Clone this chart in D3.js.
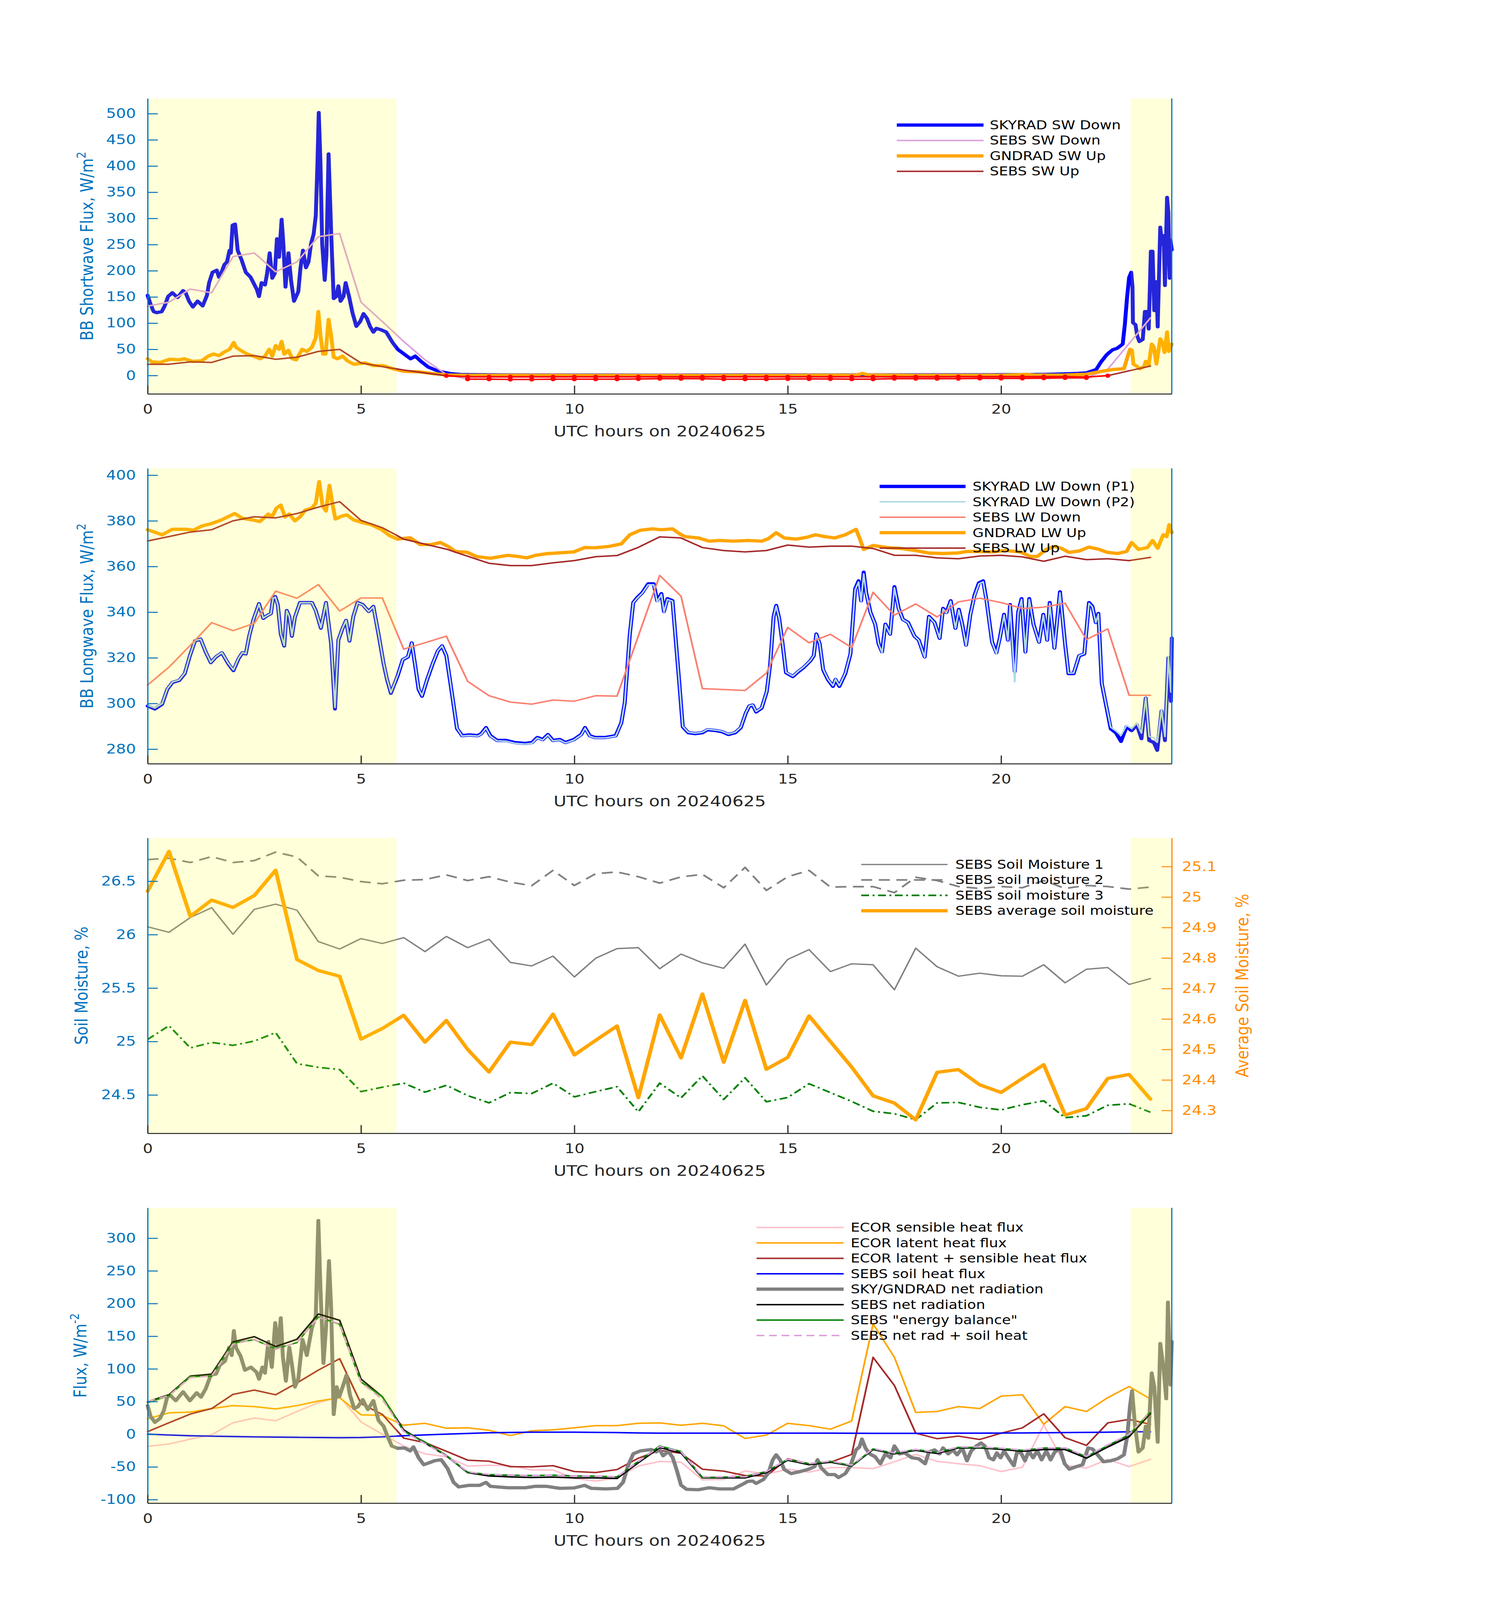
<!DOCTYPE html>
<html>
<head>
<meta charset="utf-8">
<script src="https://cdn.jsdelivr.net/npm/d3@7"></script>
<style>
  html, body { margin: 0; padding: 0; background: #fff; overflow: hidden; }
  #chart { width: 100vw; height: 100vh; }
  svg { display: block; width: 100vw; height: 100vh; font-family: 'DejaVu Sans', sans-serif; }
</style>
</head>
<body>
<div id="chart"></div>
<script>
// ---- time bases ----
const halfHours = [0, 0.5, 1, 1.5, 2, 2.5, 3, 3.5, 4, 4.5, 5, 5.5, 6, 6.5, 7, 7.5, 8, 8.5, 9, 9.5,
  10, 10.5, 11, 11.5, 12, 12.5, 13, 13.5, 14, 14.5, 15, 15.5, 16, 16.5, 17, 17.5, 18, 18.5, 19, 19.5,
  20, 20.5, 21, 21.5, 22, 22.5, 23, 23.5];
const hourTicks = [0, 5, 10, 15, 20];
const dayShade = [[0, 5.83], [23.04, 24]];

// ---- panel 1: shortwave ----
const swTicks = [0, 50, 100, 150, 200, 250, 300, 350, 400, 450, 500];
const skyradSwDown = [[0,153],[0.06,138],[0.14,122],[0.21,120],[0.33,122],[0.4,133],[0.48,151],[0.58,158],[0.7,149],
  [0.83,162],[0.89,158],[0.97,142],[1.06,131],[1.17,142],[1.29,133],[1.39,153],[1.44,177],[1.52,197],[1.62,201],
  [1.67,188],[1.73,197],[1.8,212],[1.86,217],[1.92,239],[1.95,234],[1.99,287],[2.05,289],[2.11,239],[2.2,221],
  [2.3,197],[2.41,188],[2.48,177],[2.56,164],[2.61,151],[2.67,177],[2.75,173],[2.8,195],[2.86,234],[2.92,186],
  [2.98,195],[3.03,261],[3.08,226],[3.14,298],[3.18,252],[3.23,169],[3.3,234],[3.36,182],[3.43,142],[3.53,160],
  [3.58,204],[3.64,239],[3.71,206],[3.77,217],[3.83,252],[3.89,270],[3.94,305],[3.98,406],[4.01,502],[4.05,406],
  [4.09,252],[4.15,182],[4.19,230],[4.24,423],[4.3,274],[4.36,147],[4.42,151],[4.47,171],[4.52,142],[4.59,151],
  [4.64,177],[4.72,151],[4.8,120],[4.89,94],[4.98,103],[5.06,118],[5.14,109],[5.21,94],[5.29,83],[5.36,90],
  [5.48,87],[5.59,83],[5.74,63],[5.86,50],[6.01,41],[6.16,32],[6.27,37],[6.42,26],[6.58,16],[6.73,11],[6.88,7],
  [7.11,3.5],[7.33,2],[7.6,1.5],[8.5,1],[10,0.8],[12,0.6],[14,1],[16,1],[18,1.2],[20,1.5],[21,2],[21.5,3],
  [21.8,4],[22,5],[22.23,11.5],[22.34,25.7],[22.48,40],[22.61,49],[22.72,52],[22.85,60],[22.9,97],[22.95,147],
  [23,187],[23.05,197],[23.08,169],[23.09,101],[23.15,97],[23.19,76],[23.24,65],[23.32,69],[23.37,122],[23.41,122],
  [23.46,89],[23.51,237],[23.55,237],[23.59,124],[23.64,179],[23.67,93],[23.73,283],[23.77,251],[23.81,267],
  [23.84,172],[23.89,340],[23.92,311],[23.95,186],[23.97,258],[24,240]];
const gndradSwUp = [[0,32],[0.1,26],[0.29,25],[0.52,31],[0.74,30],[0.86,32],[1.05,27],[1.27,28],[1.42,37],[1.54,41],
  [1.67,38],[1.8,45],[1.92,50],[2.02,63],[2.07,54],[2.18,48],[2.33,41],[2.48,37],[2.64,32],[2.75,37],[2.85,50],
  [2.92,37],[3,57],[3.08,50],[3.14,65],[3.2,41],[3.3,48],[3.39,32],[3.48,30],[3.62,50],[3.73,46],[3.85,54],
  [3.94,72],[4,122],[4.05,76],[4.11,41],[4.17,41],[4.24,107],[4.3,76],[4.36,35],[4.45,32],[4.57,37],[4.68,28],
  [4.83,21.5],[4.98,23],[5.1,24],[5.29,19],[5.52,19],[5.74,13],[6.01,8],[6.35,7],[6.65,4],[7.03,1],[7.5,0.5],
  [9,0.5],[11,0.3],[13,0.3],[15,0.5],[16.6,0.8],[16.75,4],[16.9,1],[18,0.5],[20,0.6],[20.6,2],[20.8,0.8],
  [21.5,1],[22,2.5],[22.34,7.8],[22.61,11.4],[22.88,13],[22.95,32],[23.02,50],[23.07,48],[23.1,22],[23.19,17],
  [23.25,13],[23.35,17],[23.39,27],[23.46,20],[23.53,60],[23.58,54],[23.64,22],[23.73,70],[23.79,61],[23.83,44],
  [23.89,83],[23.93,46],[24,60]];
const sebsSwDown = [132.6, 140, 165, 158, 227, 234, 198, 217, 265, 271, 140, 103, 65, 30, 2, -7, -7, -7.5, -7.5, -7,
  -7, -7, -7, -6.5, -6, -6, -6, -7, -7, -7, -6.5, -6.5, -6.5, -7, -7, -6, -6, -6, -6, -5.5, -5.5, -5.5, -5, -4.5,
  -4.5, 12, 61, 110];
const sebsSwUp = [21.5, 21.5, 26, 25, 37, 38, 31, 35, 46, 50, 24, 17, 10.5, 5, -0.5, -2.5, -2.5, -2.5, -2.5, -2.5,
  -2.5, -2.5, -2.5, -2.5, -2.5, -2.5, -2.5, -2.5, -2.5, -2.5, -2.5, -2.5, -2.5, -2.5, -2.5, -2.5, -2.5, -2.5, -2.2,
  -2.2, -2.2, -2.2, -2.2, -2.2, -2.9, -0.3, 9, 18];

// ---- panel 2: longwave ----
const lwTicks = [280, 300, 320, 340, 360, 380, 400];
const skyradLwDownP1 = [[0,298.9],[0.17,297.6],[0.34,299.7],[0.46,306.2],[0.58,309.2],[0.74,310.1],[0.87,313.1],
  [0.99,320.9],[1.11,327.4],[1.24,328.2],[1.36,322.6],[1.48,317.9],[1.6,320.4],[1.74,322.2],[1.89,317.4],[2.01,314.4],
  [2.13,319.6],[2.22,322.2],[2.3,321.7],[2.38,329.5],[2.48,336.8],[2.61,343.7],[2.71,337.3],[2.81,338.6],[2.89,339.4],
  [2.94,346.3],[2.99,346.8],[3.05,343.3],[3.12,330.4],[3.2,325.2],[3.26,340.7],[3.32,338.1],[3.38,329.5],[3.45,337.7],
  [3.57,344.2],[3.69,344.2],[3.85,344.2],[3.94,340.7],[4.06,333],[4.18,344.2],[4.3,326.1],[4.39,297.6],[4.47,327.8],
  [4.57,333],[4.65,336.4],[4.73,327.4],[4.82,338.1],[4.92,344.2],[5.04,343.3],[5.18,340.3],[5.29,342.5],[5.41,330.4],
  [5.53,317.4],[5.61,310.5],[5.7,304.5],[5.86,312.2],[5.98,319.2],[6.1,320.4],[6.19,326.5],[6.27,316.6],[6.35,306.2],
  [6.43,303.2],[6.55,310.5],[6.68,317.4],[6.8,323],[6.9,325.2],[7,320.9],[7.13,304.5],[7.25,289],[7.37,285.9],
  [7.54,286.2],[7.74,285.9],[7.82,286.8],[7.93,289.4],[8.03,285.9],[8.19,283.8],[8.4,283.8],[8.6,282.9],[8.85,282.5],
  [9.01,282.9],[9.13,285.1],[9.26,284.2],[9.38,286.4],[9.5,283.8],[9.66,284.2],[9.79,282.9],[9.99,284.2],[10.16,286.4],
  [10.25,289.4],[10.36,285.9],[10.48,285.1],[10.73,285.1],[10.97,285.9],[11.1,291.5],[11.18,300.2],[11.3,330.4],
  [11.38,344.2],[11.47,346.3],[11.59,348.5],[11.73,352.4],[11.86,352.4],[11.94,345],[12.04,348.1],[12.1,340.3],
  [12.18,345.9],[12.3,345],[12.38,326.9],[12.46,308.8],[12.54,289.8],[12.67,287.2],[12.83,286.8],[13,287.2],
  [13.12,288.5],[13.32,288.1],[13.45,287.7],[13.61,286.4],[13.77,287.2],[13.9,289.4],[14.02,295.9],[14.1,298.9],
  [14.18,299.3],[14.26,296.3],[14.39,298],[14.51,305.3],[14.59,317.4],[14.67,338.1],[14.73,342.9],[14.8,337.3],
  [14.88,326.1],[14.96,313.5],[15.12,311.8],[15.25,314],[15.37,315.7],[15.53,318.7],[15.61,320.9],[15.67,330.4],
  [15.75,326.1],[15.83,314.8],[15.94,310.5],[16.06,307.5],[16.12,310.5],[16.21,307.5],[16.35,313.1],[16.47,321.7],
  [16.58,350.2],[16.66,353.7],[16.72,345],[16.78,357.5],[16.84,348.5],[16.94,339.9],[17.05,334.7],[17.13,326.1],
  [17.21,322.6],[17.29,334.7],[17.4,330.4],[17.5,351.1],[17.6,341.6],[17.7,336.8],[17.82,335.5],[17.97,329.5],
  [18.07,327.8],[18.21,320.4],[18.31,338.1],[18.44,335.5],[18.56,328.6],[18.64,341.6],[18.72,339.9],[18.82,345],
  [18.93,333],[19.01,341.2],[19.09,334.7],[19.18,325.6],[19.28,339],[19.38,347.6],[19.48,352.8],[19.58,353.7],
  [19.66,345],[19.79,326.9],[19.89,322.2],[19.97,328.6],[20.07,339],[20.16,327.8],[20.21,343.3],[20.32,314],
  [20.4,339.9],[20.48,345.9],[20.57,322.6],[20.66,345.9],[20.76,334.7],[20.89,326.9],[20.99,339],[21.08,327.8],
  [21.14,344.2],[21.25,324.3],[21.38,348.9],[21.5,326.1],[21.58,313.1],[21.7,313.1],[21.83,320.9],[21.95,321.7],
  [22.06,344.2],[22.14,342.5],[22.22,335.5],[22.28,339.4],[22.36,308.8],[22.47,298.4],[22.57,288.9],[22.69,287.2],
  [22.81,283.4],[22.94,289.8],[23.06,288.1],[23.18,290.7],[23.29,284.6],[23.39,302.3],[23.47,283.8],[23.58,282.9],
  [23.66,279.5],[23.76,296.7],[23.84,283.8],[23.92,320],[23.98,301],[24,328.6]];
const skyradLwDownP2 = [[0,299.2],[0.17,298],[0.34,300],[0.46,306.4],[0.58,309.4],[0.74,310.3],[0.87,313.3],
  [0.99,321],[1.11,327.5],[1.24,328.2],[1.36,322.7],[1.48,318],[1.6,320.5],[1.74,322.3],[1.89,317.6],[2.01,314.7],
  [2.13,319.8],[2.22,322.3],[2.3,321.8],[2.38,329.6],[2.48,336.8],[2.61,343.6],[2.71,337.4],[2.81,338.6],[2.89,339.4],
  [2.94,346.1],[2.99,346.6],[3.05,343.2],[3.12,330.6],[3.2,325.4],[3.26,340.6],[3.32,338.1],[3.38,329.7],[3.45,337.7],
  [3.57,344.1],[3.69,344.1],[3.85,344.1],[3.94,340.6],[4.06,333.2],[4.18,344.1],[4.3,326.3],[4.39,298.3],[4.47,327.9],
  [4.57,333.1],[4.65,336.4],[4.73,327.5],[4.82,338.1],[4.92,344.1],[5.04,343.2],[5.18,340.3],[5.29,342.4],[5.41,330.5],
  [5.53,317.6],[5.61,310.7],[5.7,304.8],[5.86,312.3],[5.98,319.3],[6.1,320.5],[6.19,326.5],[6.27,316.7],[6.35,306.4],
  [6.43,303.4],[6.55,310.6],[6.68,317.5],[6.8,323.1],[6.9,325.2],[7,321],[7.13,304.7],[7.25,289.2],[7.37,285.7],
  [7.54,286],[7.74,285.7],[7.82,286.6],[7.93,289.2],[8.03,285.7],[8.19,283.6],[8.4,283.5],[8.6,282.6],[8.85,282.2],
  [9.01,282.6],[9.13,284.9],[9.26,284],[9.38,286.2],[9.5,283.6],[9.66,284],[9.79,282.7],[9.99,284],[10.16,286.2],
  [10.25,289.2],[10.36,285.7],[10.48,284.9],[10.73,284.9],[10.97,285.7],[11.1,291.5],[11.18,300.4],[11.3,330.5],
  [11.38,344.1],[11.47,346.1],[11.59,348.3],[11.73,352],[11.86,352],[11.94,344.5],[12.04,347.8],[12.1,340],
  [12.18,345.6],[12.3,344.8],[12.38,326.9],[12.46,308.9],[12.54,290],[12.67,287.4],[12.83,287],[13,287.4],
  [13.12,288.7],[13.32,288.3],[13.45,287.9],[13.61,286.6],[13.77,287.4],[13.9,289.6],[14.02,296],[14.1,299],
  [14.18,299.4],[14.26,296.5],[14.39,298.2],[14.51,305.4],[14.59,317.5],[14.67,338],[14.73,342.7],[14.8,337.3],
  [14.88,326.2],[14.96,313.7],[15.12,312],[15.25,314.2],[15.37,315.9],[15.53,318.8],[15.61,321],[15.67,330.3],
  [15.75,326.2],[15.83,315],[15.94,310.7],[16.06,307.8],[16.12,310.7],[16.21,307.8],[16.35,313.3],[16.47,321.8],
  [16.58,349.8],[16.66,353.2],[16.72,344.7],[16.78,356.8],[16.84,348.2],[16.94,339.8],[17.05,334.7],[17.13,326.2],
  [17.21,322.2],[17.29,334.6],[17.4,330.4],[17.5,350.7],[17.6,341.4],[17.7,336.7],[17.82,335.4],[17.97,329.5],
  [18.07,327.8],[18.21,320.2],[18.31,337.9],[18.44,335.4],[18.56,328.6],[18.64,341.4],[18.72,339.7],[18.82,344.8],
  [18.93,332.9],[19.01,341],[19.09,334.6],[19.18,325.4],[19.28,338.8],[19.38,347.3],[19.48,352.4],[19.58,353.3],
  [19.66,344.8],[19.79,326.8],[19.89,321.8],[19.97,328.5],[20.07,338.8],[20.16,327.7],[20.21,343],[20.32,309.5],
  [20.4,339.7],[20.48,345.6],[20.57,322.4],[20.66,345.6],[20.76,334.6],[20.89,326.8],[20.99,338.8],[21.08,327.7],
  [21.14,343.9],[21.25,324.2],[21.38,348.5],[21.5,326.1],[21.58,313.3],[21.7,313.3],[21.83,321],[21.95,321.8],
  [22.06,343.9],[22.14,342.3],[22.22,335.4],[22.28,339.2],[22.36,309],[22.47,298.6],[22.57,289.6],[22.69,288],
  [22.81,286],[22.94,290.4],[23.06,289],[23.18,291.4],[23.29,287],[23.39,302.5],[23.47,285.5],[23.58,285],
  [23.66,283],[23.76,297.5],[23.84,285.5],[23.92,320.5],[23.98,305],[24,328.8]];
const gndradLwUp = [[0,376.1],[0.34,373.9],[0.58,376.3],[0.91,376.3],[1.07,375.9],[1.28,377.8],[1.48,378.7],
  [1.73,380.4],[2.04,383.2],[2.22,381.1],[2.46,380.4],[2.63,379.7],[2.83,383],[2.91,381.7],[3.02,385.6],[3.12,386.9],
  [3.22,381.7],[3.32,383],[3.45,380],[3.57,381.7],[3.69,384.7],[3.85,385.6],[3.94,387.7],[4.02,397.2],[4.1,386.5],
  [4.18,384.3],[4.26,395.5],[4.34,386.5],[4.4,380.8],[4.55,382.1],[4.67,382.6],[4.83,380.4],[5,379.4],[5.24,378.3],
  [5.49,376.1],[5.67,373.5],[5.86,372],[6.15,372.6],[6.39,369.6],[6.64,369.6],[6.86,370.5],[7.04,368.8],[7.21,366.6],
  [7.49,366.2],[7.7,364.4],[8.03,363.6],[8.44,364.9],[8.68,364.4],[8.89,363.8],[9.09,364.9],[9.34,365.6],[9.66,366],
  [9.99,366.4],[10.24,368.3],[10.48,368.2],[10.81,368.8],[11.1,369.9],[11.3,373.9],[11.55,375.9],[11.83,376.5],
  [12.04,376.1],[12.3,376.5],[12.46,374.4],[12.59,373.1],[12.91,372.5],[13.16,371.1],[13.4,371.4],[13.73,371.1],
  [14.06,371.4],[14.39,371.1],[14.55,372.2],[14.73,374.8],[14.92,372.5],[15.2,372],[15.45,372.8],[15.65,373.9],
  [15.86,373.1],[16.1,372.5],[16.35,373.9],[16.6,376.3],[16.68,372.6],[16.78,367.5],[17,369.2],[17.33,368.3],
  [17.66,367.9],[17.99,367],[18.31,365.9],[18.64,365.7],[18.97,365.9],[19.21,366.6],[19.46,366.6],[19.79,366.4],
  [20.11,367],[20.44,366.4],[20.69,364.4],[20.85,364.4],[21.06,367.5],[21.26,368.8],[21.42,367.9],[21.59,366.2],
  [21.83,366.8],[22.06,368.5],[22.28,367.6],[22.49,366.2],[22.73,365.7],[22.94,366.6],[23.06,370.5],[23.22,367.5],
  [23.43,368.3],[23.55,371.4],[23.67,368],[23.8,373.9],[23.88,373.1],[23.94,378.3],[24,374.8]];
const sebsLwDown = [308.1, 315.9, 325.5, 335.4, 331.9, 335.1, 349.2, 346.1, 352.1, 340.5, 346.2, 346.2, 323.8, 326.6,
  329.5, 309.7, 303.4, 300.6, 299.7, 301.5, 301, 303.4, 303.2, 329.6, 356.1, 347, 306.5, 306.1, 305.7, 313.3, 333.3,
  326.6, 330.3, 324.5, 348.7, 338.7, 343.6, 337.9, 344.5, 346.1, 344.2, 341.6, 342.2, 343.9, 328, 332.7, 303.6, 303.6];
const sebsLwUp = [371.2, 373.1, 375.1, 376.1, 380, 381.8, 381.3, 383.2, 386, 388.4, 380.2, 377, 372, 369.8, 367.6,
  364.5, 361.4, 360.4, 360.4, 361.6, 362.6, 364.3, 364.8, 368.4, 373, 372.5, 368.3, 367, 366.4, 367, 369.4, 368.5,
  368.9, 368.9, 367.9, 364.9, 364.9, 363.8, 363.4, 364.6, 364.9, 364.2, 362.3, 364.5, 363, 363.4, 362.6, 364];

// ---- panel 3: soil moisture ----
const smTicks = [24.5, 25, 25.5, 26, 26.5];
const smAvgTicks = [24.3, 24.4, 24.5, 24.6, 24.7, 24.8, 24.9, 25, 25.1];
const soilMoisture1 = [26.073, 26.022, 26.16, 26.252, 26.003, 26.237, 26.285, 26.228, 25.935, 25.865, 25.963, 25.917,
  25.972, 25.841, 25.983, 25.878, 25.957, 25.74, 25.707, 25.799, 25.604, 25.779, 25.869, 25.878, 25.681, 25.818,
  25.736, 25.685, 25.911, 25.529, 25.768, 25.86, 25.654, 25.727, 25.718, 25.484, 25.873, 25.7, 25.611, 25.639,
  25.615, 25.611, 25.718, 25.549, 25.676, 25.692, 25.534, 25.589];
const soilMoisture2 = [26.702, 26.715, 26.675, 26.73, 26.675, 26.693, 26.772, 26.726, 26.55, 26.537, 26.496, 26.476,
  26.509, 26.515, 26.559, 26.506, 26.542, 26.491, 26.458, 26.601, 26.46, 26.57, 26.586, 26.542, 26.482, 26.54,
  26.564, 26.439, 26.629, 26.414, 26.542, 26.601, 26.445, 26.449, 26.449, 26.393, 26.537, 26.506, 26.45, 26.432,
  26.45, 26.439, 26.506, 26.432, 26.46, 26.45, 26.426, 26.445];
const soilMoisture3 = [25.019, 25.148, 24.94, 24.991, 24.964, 25.004, 25.083, 24.793, 24.758, 24.737, 24.531, 24.572,
  24.61, 24.526, 24.59, 24.494, 24.426, 24.522, 24.513, 24.61, 24.482, 24.531, 24.577, 24.342, 24.61, 24.472,
  24.678, 24.458, 24.66, 24.436, 24.476, 24.605, 24.522, 24.439, 24.347, 24.324, 24.268, 24.425, 24.43, 24.384,
  24.36, 24.408, 24.445, 24.287, 24.305, 24.403, 24.417, 24.338];
const soilMoistureAvg = [25.019, 25.15, 24.937, 24.99, 24.966, 25.005, 25.088, 24.795, 24.759, 24.74, 24.534, 24.569,
  24.612, 24.524, 24.595, 24.5, 24.426, 24.524, 24.516, 24.616, 24.482, 24.53, 24.577, 24.342, 24.613, 24.472,
  24.682, 24.458, 24.661, 24.435, 24.474, 24.61, 24.526, 24.442, 24.348, 24.324, 24.269, 24.425, 24.434, 24.384,
  24.359, 24.405, 24.45, 24.285, 24.306, 24.405, 24.418, 24.337];

// ---- panel 4: surface energy fluxes ----
const fluxTicks = [-100, -50, 0, 50, 100, 150, 200, 250, 300];
const ecorSensible = [-18.6, -15, -7.5, -0.8, 17.6, 24.8, 20.6, 34.8, 48.3, 57.4, 18.8, 0, -18, -30, -34.5, -48.7,
  -47.5, -48.1, -54.7, -54.7, -67.7, -71.6, -66.8, -48.7, -41.5, -42.7, -69.8, -69.2, -56.2, -61, -53.5, -58, -51.1,
  -51.1, -52.6, -42.1, -30.9, -41.5, -45.1, -48.1, -57.1, -50.5, 14.6, -47.5, -51.7, -38.5, -49.6, -38.5];
const ecorLatent = [23.6, 32.7, 33.9, 39.3, 43.8, 42.3, 38.7, 43.8, 50.8, 55.9, 29.7, 28.8, 13.7, 16.7, 9.2, 9.8, 6.1,
  -2, 5.2, 6.7, 9.8, 13.1, 13.1, 16.7, 17.3, 13.7, 16.7, 12.8, -6.5, -1.4, 16.7, 13.1, 7.7, 20.3, 168.9, 117.7, 33.3,
  34.8, 42.3, 39.3, 58.3, 60.4, 15.2, 42.3, 34.8, 55.9, 73.1, 53.8];
const ecorLatSens = [4, 17.6, 30.9, 39.3, 61, 67.6, 60.4, 78.5, 98.1, 115.6, 46.8, 30.3, -5.9, -12.8, -26.1, -39.7,
  -41.2, -49.6, -49.9, -48.1, -57.1, -58.6, -54.1, -36.6, -24.6, -29.1, -53.5, -56.5, -63.2, -63.8, -37.5, -45.1, -43,
  -30.9, 117.7, 74.6, 1.6, -6.8, -2.9, -8, 1.6, 9.8, 31.2, -5.3, -17.1, 17.3, 22.7, 15.2];
const sebsSoilHeat = [0.1, -1.2, -2.3, -3, -3.5, -4, -4.4, -4.7, -5, -5.3, -5, -4, -2.3, -1, 0.1, 1.2, 2.2, 2.7, 3.1,
  3.1, 3.1, 2.8, 2.5, 2, 1.6, 1.6, 1.6, 1.6, 1.6, 1.6, 1.6, 1.6, 1.6, 1.5, 1.4, 1.4, 1.4, 1.5, 1.6, 1.6, 1.8, 2, 2.2,
  2.5, 2.8, 3.2, 3.7, 3.7];
const sebsNetRad = [49.8, 60.4, 89, 92, 141.2, 149.3, 134.2, 145.4, 184, 174.3, 84.5, 57.4, 6.7, -13.4, -33, -58.7,
  -63.8, -65.3, -66.2, -65.6, -66.8, -66.8, -67.7, -43.6, -20.4, -28.5, -66.8, -66.8, -66.8, -58.7, -39.7, -46.6,
  -42.7, -48.7, -23.4, -30, -24.6, -29.4, -21, -21, -23.1, -26.1, -23.4, -23.4, -36.6, -19.5, -3.8, 31.8];
const sebsEnergyBal = [48.3, 58.9, 88.1, 89, 139.4, 144.8, 130.6, 140.3, 179.4, 168.3, 80, 57.4, 4.6, -12, -32.4,
  -58.1, -61.7, -62.6, -63.2, -62.6, -63.8, -64.1, -65.3, -41.5, -18, -26.4, -66.2, -65.6, -64.7, -57.1, -38.5,
  -45.1, -41.5, -48.1, -22.5, -29.1, -23.4, -27.6, -20.1, -20.1, -21.6, -24.6, -21, -21, -34.5, -17.4, -0.8, 34.2];
const sebsNetPlusSoil = [49.9, 59.2, 86.7, 89, 137.7, 145.3, 129.8, 140.7, 179, 169, 79.5, 53.4, 4.4, -14.4, -32.9,
  -57.5, -61.6, -62.6, -63.1, -62.5, -63.7, -64, -65.2, -41.6, -18.8, -26.9, -65.2, -65.2, -65.2, -57.1, -38.1, -45,
  -41.1, -47.2, -22, -28.6, -23.2, -27.9, -19.4, -19.4, -21.3, -24.1, -21.2, -20.9, -33.8, -16.3, -0.1, 35.5];
const skyGndNetRad = [[0,43.8],[0.07,27.3],[0.17,18.2],[0.29,24.2],[0.38,36.3],[0.46,57.4],[0.54,58.9],[0.66,51.4],
  [0.83,64.9],[0.99,51.4],[1.15,63.4],[1.25,56.8],[1.36,69.4],[1.48,90.5],[1.6,92],[1.69,105.6],[1.81,111.6],
  [1.91,132.7],[1.97,120.7],[2.02,158.3],[2.07,132.7],[2.18,119.2],[2.28,98.1],[2.42,102.6],[2.55,95.1],[2.61,84.5],
  [2.69,102.6],[2.75,93.6],[2.83,141.8],[2.91,102.6],[2.99,170.4],[3.06,132.7],[3.12,177.9],[3.17,117.7],[3.24,81.5],
  [3.32,132.7],[3.39,102.6],[3.45,72.4],[3.53,84.5],[3.63,144.8],[3.73,120.7],[3.85,162.9],[3.94,181],[4,327],
  [4.05,223],[4.12,108.6],[4.18,162.9],[4.25,265.3],[4.3,193],[4.36,30.3],[4.43,72.4],[4.49,57.4],[4.57,72.4],
  [4.66,90.5],[4.74,60.4],[4.84,39.3],[4.93,42.3],[5.04,52.9],[5.16,37.8],[5.29,51.4],[5.41,21.2],[5.53,12.2],
  [5.61,-1.4],[5.72,-18],[5.86,-21.6],[6.02,-21],[6.15,-25.5],[6.23,-19.5],[6.35,-36],[6.47,-46.6],[6.6,-43.6],
  [6.72,-40.6],[6.88,-39],[7.03,-52.6],[7.17,-73.7],[7.29,-80.6],[7.54,-78.2],[7.78,-78.2],[7.93,-73.7],[8.03,-79.7],
  [8.44,-81.9],[8.85,-81.9],[9.09,-79.7],[9.34,-79.7],[9.66,-82.8],[9.99,-82.2],[10.24,-78.2],[10.4,-82.8],
  [10.73,-83.7],[11.01,-82.8],[11.14,-73.7],[11.26,-47.9],[11.38,-30],[11.55,-25.5],[11.8,-23.4],[11.92,-27],
  [12,-23.4],[12.08,-33],[12.2,-26.4],[12.3,-35],[12.4,-55],[12.5,-78],[12.63,-84.3],[12.91,-84.9],[13.16,-81.9],
  [13.4,-83.7],[13.73,-83.7],[13.94,-76.7],[14.06,-72.2],[14.18,-71.6],[14.26,-75.2],[14.43,-69.2],[14.55,-58.7],
  [14.65,-39.1],[14.73,-31.5],[14.82,-39.1],[14.92,-54.1],[15.08,-60.2],[15.29,-57.1],[15.49,-53.5],[15.63,-49.6],
  [15.7,-39.1],[15.78,-51.1],[15.94,-61.7],[16.1,-61.7],[16.19,-66.2],[16.35,-60.2],[16.47,-48.1],[16.6,-24],
  [16.68,-19.5],[16.74,-7.4],[16.82,-21],[16.92,-30],[17.05,-34.5],[17.17,-45.1],[17.29,-30],[17.41,-36],[17.5,-18],
  [17.62,-30],[17.74,-28.5],[17.91,-36],[18.07,-37.5],[18.22,-45.1],[18.31,-27],[18.44,-24],[18.56,-30],[18.64,-21],
  [18.76,-30],[18.87,-24],[18.97,-31.5],[19.09,-21],[19.2,-40.6],[19.3,-25.5],[19.42,-18],[19.53,-13.4],[19.62,-18],
  [19.72,-36],[19.82,-39.1],[19.9,-28.5],[19.99,-36],[20.07,-25.5],[20.2,-39.1],[20.3,-48.1],[20.38,-25.5],[20.48,-30],
  [20.56,-40.6],[20.65,-25.5],[20.75,-36],[20.85,-25.5],[20.95,-39.1],[21.06,-25.5],[21.16,-39.1],[21.26,-27],
  [21.38,-22.5],[21.49,-45.1],[21.6,-53.5],[21.76,-49.6],[21.91,-46.6],[22.04,-21],[22.14,-22.5],[22.28,-33],
  [22.4,-42.1],[22.57,-40.6],[22.73,-37.5],[22.88,-31.5],[22.96,-1.5],[23.02,42.3],[23.07,66.4],[23.14,12.2],
  [23.22,-27],[23.32,-21],[23.39,12.2],[23.45,-5.9],[23.53,93.6],[23.59,72.4],[23.67,-12],[23.73,138.8],[23.81,99.6],
  [23.87,54.4],[23.91,202],[23.97,75.4],[24,141.8]];

// ---- layout ----
const width = 3825;
const height = 4875;
const plotLeft = 378;
const plotRight = 3000;
const plotH = 900;
const axisBlue = '#0072BD';
const axisOrange = '#FF8C00';
const dark = '#262626';
const shadeFill = 'rgba(255,255,0,0.145)';

// the drawing is laid out in a 3825x4875 frame and scaled to the window
const svg = d3.select('#chart').append('svg')
  .attr('viewBox', `0 0 ${width} ${height}`)
  .attr('preserveAspectRatio', 'none');

svg.append('rect').attr('width', width).attr('height', height).attr('fill', '#fff');

const x = d3.scaleLinear().domain([0, 24]).range([plotLeft, plotRight]);

const halfHourly = vals => halfHours.map((h, i) => [h, vals[i]]);

function translation(a, b) {
  return 'translate(' + a + ',' + b + ')';
}

function drawLine(g, data, y, s) {
  const line = d3.line().x(d => x(d[0])).y(d => y(d[1]));
  g.append('path')
    .datum(data)
    .attr('fill', 'none')
    .attr('stroke', s.color)
    .attr('stroke-width', s.w)
    .attr('stroke-dasharray', s.dash || null)
    .attr('stroke-linejoin', 'round')
    .attr('stroke-linecap', s.dash ? 'butt' : 'round')
    .attr('d', line);
}

function shade(g, top) {
  dayShade.forEach(r => {
    g.append('rect')
      .attr('x', x(r[0]))
      .attr('y', top)
      .attr('width', x(r[1]) - x(r[0]))
      .attr('height', plotH)
      .attr('fill', shadeFill);
  });
}

function styleAxis(sel, color, fontSize) {
  sel.attr('font-family', "'DejaVu Sans', sans-serif").attr('font-size', fontSize);
  sel.select('.domain').attr('stroke', color).attr('stroke-width', 3);
  sel.selectAll('.tick line').attr('stroke', color).attr('stroke-width', 3);
  sel.selectAll('.tick text').attr('fill', color);
}

function bottomAxis(g, top) {
  const ax = d3.axisBottom(x).tickValues(hourTicks).tickFormat(d3.format('d'))
    .tickSize(-25).tickSizeOuter(0).tickPadding(32);
  const a = g.append('g').attr('transform', translation(0, top + plotH)).call(ax);
  styleAxis(a, dark, 40);
  g.append('text')
    .attr('x', (plotLeft + plotRight) / 2)
    .attr('y', top + plotH + 130)
    .attr('text-anchor', 'middle')
    .attr('font-size', 45)
    .attr('fill', dark)
    .text('UTC hours on 20240625');
}

function leftAxis(g, y, ticks) {
  const ax = d3.axisLeft(y).tickValues(ticks).tickFormat(d => String(d))
    .tickSize(-26).tickSizeOuter(0).tickPadding(30);
  const a = g.append('g').attr('transform', translation(plotLeft, 0)).call(ax);
  styleAxis(a, axisBlue, 40);
}

function rightEdge(g, top) {
  g.append('line')
    .attr('x1', plotRight).attr('x2', plotRight)
    .attr('y1', top).attr('y2', top + plotH)
    .attr('stroke', axisBlue).attr('stroke-width', 3);
}

function yLabel(g, cx, top, text, sup, color) {
  const t = g.append('text')
    .attr('transform', `${translation(cx, top + plotH / 2)}rotate(-90)`)
    .attr('text-anchor', 'middle')
    .attr('dy', '0.35em')
    .attr('font-size', 45)
    .attr('fill', color)
    .text(text);
  if (sup) {
    t.append('tspan').attr('dy', -19).attr('font-size', 32).text(sup);
  }
}

function legend(g, x0, x1, tx, y0, entries) {
  entries.forEach((e, i) => {
    const yy = y0 + i * 47;
    g.append('line')
      .attr('x1', x0).attr('x2', x1).attr('y1', yy).attr('y2', yy)
      .attr('stroke', e.color)
      .attr('stroke-width', e.w)
      .attr('stroke-dasharray', e.dash || null);
    g.append('text')
      .attr('x', tx).attr('y', yy).attr('dy', '0.35em')
      .attr('font-size', 37)
      .attr('fill', '#000')
      .text(e.label);
  });
}

// consecutive runs of negative half-hourly values (flagged in red at night)
function negativeRuns(vals) {
  const runs = [];
  let cur = [];
  vals.forEach((v, i) => {
    if (v < 0) {
      cur.push([halfHours[i], v]);
    } else if (cur.length) {
      runs.push(cur);
      cur = [];
    }
  });
  if (cur.length) runs.push(cur);
  return runs;
}

// ---- PANEL 1: shortwave ----
(function() {
  const top = 300;
  const g = svg.append('g');
  const y = d3.scaleLinear().domain([-35, 529]).range([top + plotH, top]);

  const s = {
    skySw: { color: '#0000FF', w: 10, label: 'SKYRAD SW Down' },
    sebsDn: { color: '#DDA0DD', w: 4.5, label: 'SEBS SW Down' },
    gndSw: { color: '#FFA500', w: 10, label: 'GNDRAD SW Up' },
    sebsUp: { color: '#A52A2A', w: 4.5, label: 'SEBS SW Up' },
  };

  drawLine(g, skyradSwDown, y, s.skySw);
  drawLine(g, halfHourly(sebsSwDown), y, s.sebsDn);
  drawLine(g, gndradSwUp, y, s.gndSw);
  drawLine(g, halfHourly(sebsSwUp), y, s.sebsUp);

  [sebsSwUp, sebsSwDown].forEach(vals => {
    negativeRuns(vals).forEach(run => {
      drawLine(g, run, y, { color: '#FF0000', w: 4.5 });
      g.selectAll(null).data(run).enter().append('circle')
        .attr('cx', d => x(d[0]))
        .attr('cy', d => y(d[1]))
        .attr('r', 6.5)
        .attr('fill', '#FF0000');
    });
  });

  shade(g, top);
  leftAxis(g, y, swTicks);
  rightEdge(g, top);
  bottomAxis(g, top);
  yLabel(g, 222, top, 'BB Shortwave Flux, W/m', '2', axisBlue);
  legend(g, 2296, 2518, 2534, 381, [s.skySw, s.sebsDn, s.gndSw, s.sebsUp]);
})();

// ---- PANEL 2: longwave ----
(function() {
  const top = 1427;
  const g = svg.append('g');
  const y = d3.scaleLinear().domain([273.6, 403]).range([top + plotH, top]);

  const s = {
    p1: { color: '#0000FF', w: 10, label: 'SKYRAD LW Down (P1)' },
    p2: { color: '#ADD8E6', w: 4.5, label: 'SKYRAD LW Down (P2)' },
    sebsDn: { color: '#FA8072', w: 4.5, label: 'SEBS LW Down' },
    gndUp: { color: '#FFA500', w: 10, label: 'GNDRAD LW Up' },
    sebsUp: { color: '#A52A2A', w: 4.5, label: 'SEBS LW Up' },
  };

  drawLine(g, skyradLwDownP1, y, s.p1);
  drawLine(g, skyradLwDownP2, y, s.p2);
  drawLine(g, halfHourly(sebsLwDown), y, s.sebsDn);
  drawLine(g, gndradLwUp, y, s.gndUp);
  drawLine(g, halfHourly(sebsLwUp), y, s.sebsUp);

  shade(g, top);
  leftAxis(g, y, lwTicks);
  rightEdge(g, top);
  bottomAxis(g, top);
  yLabel(g, 222, top, 'BB Longwave Flux, W/m', '2', axisBlue);
  legend(g, 2252, 2472, 2490, 1482, [s.p1, s.p2, s.sebsDn, s.gndUp, s.sebsUp]);
})();

// ---- PANEL 3: soil moisture (two y axes) ----
(function() {
  const top = 2553;
  const g = svg.append('g');
  const y = d3.scaleLinear().domain([24.141, 26.905]).range([top + plotH, top]);
  const yR = d3.scaleLinear().domain([24.225, 25.194]).range([top + plotH, top]);

  const s = {
    sm1: { color: '#808080', w: 4, label: 'SEBS Soil Moisture 1' },
    sm2: { color: '#808080', w: 5, dash: '28,17', label: 'SEBS soil moisture 2' },
    sm3: { color: '#008000', w: 5, dash: '20,9,5,9', label: 'SEBS soil moisture 3' },
    avg: { color: '#FFA500', w: 10, label: 'SEBS average soil moisture' },
  };

  drawLine(g, halfHourly(soilMoisture1), y, s.sm1);
  drawLine(g, halfHourly(soilMoisture2), y, s.sm2);
  drawLine(g, halfHourly(soilMoisture3), y, s.sm3);
  drawLine(g, halfHourly(soilMoistureAvg), yR, s.avg);

  shade(g, top);
  leftAxis(g, y, smTicks);

  const axR = d3.axisRight(yR).tickValues(smAvgTicks).tickFormat(d => String(d))
    .tickSize(-26).tickSizeOuter(0).tickPadding(26);
  const a = g.append('g').attr('transform', translation(plotRight, 0)).call(axR);
  styleAxis(a, axisOrange, 40);

  bottomAxis(g, top);
  yLabel(g, 208, top, 'Soil Moisture, %', null, axisBlue);
  yLabel(g, 3180, top, 'Average Soil Moisture, %', null, axisOrange);
  legend(g, 2205, 2426, 2446, 2634, [s.sm1, s.sm2, s.sm3, s.avg]);
})();

// ---- PANEL 4: energy balance ----
(function() {
  const top = 3680;
  const g = svg.append('g');
  const y = d3.scaleLinear().domain([-105.5, 346.5]).range([top + plotH, top]);

  const s = {
    sens: { color: '#FFC0CB', w: 4.5, label: 'ECOR sensible heat flux' },
    lat: { color: '#FFA500', w: 4.5, label: 'ECOR latent heat flux' },
    latSens: { color: '#A52A2A', w: 4.5, label: 'ECOR latent + sensible heat flux' },
    soil: { color: '#0000FF', w: 4.5, label: 'SEBS soil heat flux' },
    net: { color: '#808080', w: 10, label: 'SKY/GNDRAD net radiation' },
    sebsNet: { color: '#000000', w: 4.5, label: 'SEBS net radiation' },
    eb: { color: '#008000', w: 4.5, label: 'SEBS "energy balance"' },
    netSoil: { color: '#DDA0DD', w: 4.5, dash: '20,12', label: 'SEBS net rad + soil heat' },
  };

  drawLine(g, halfHourly(ecorSensible), y, s.sens);
  drawLine(g, halfHourly(ecorLatent), y, s.lat);
  drawLine(g, halfHourly(ecorLatSens), y, s.latSens);
  drawLine(g, halfHourly(sebsSoilHeat), y, s.soil);
  drawLine(g, skyGndNetRad, y, s.net);
  drawLine(g, halfHourly(sebsNetRad), y, s.sebsNet);
  drawLine(g, halfHourly(sebsEnergyBal), y, s.eb);
  drawLine(g, halfHourly(sebsNetPlusSoil), y, s.netSoil);

  shade(g, top);
  leftAxis(g, y, fluxTicks);
  rightEdge(g, top);
  bottomAxis(g, top);
  yLabel(g, 205, top, 'Flux, W/m', '-2', axisBlue);
  legend(g, 1937, 2160, 2178, 3740,
    [s.sens, s.lat, s.latSens, s.soil, s.net, s.sebsNet, s.eb, s.netSoil]);
})();
</script>
</body>
</html>
